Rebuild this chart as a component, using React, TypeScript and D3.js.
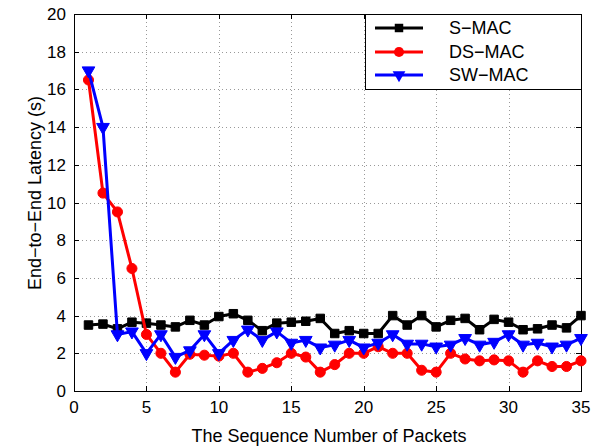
import React, { useRef, useEffect } from 'react';
import * as d3 from 'd3';

const packets = d3.range(1, 36);
const sMac = [3.5, 3.55, 3.3, 3.65, 3.6, 3.5, 3.4, 3.75, 3.5, 3.95, 4.1, 3.75, 3.2, 3.6, 3.65, 3.7, 3.85, 3.05, 3.2, 3.05, 3.05, 4.0, 3.5, 4.0, 3.4, 3.75, 3.85, 3.25, 3.8, 3.65, 3.25, 3.3, 3.5, 3.35, 4.0];
const dsMac = [16.5, 10.5, 9.5, 6.5, 3.0, 2.0, 1.0, 1.95, 1.9, 1.85, 2.0, 1.0, 1.2, 1.5, 2.0, 1.8, 1.0, 1.4, 2.0, 2.0, 2.35, 2.0, 2.0, 1.1, 1.0, 2.0, 1.7, 1.6, 1.65, 1.6, 1.0, 1.6, 1.3, 1.3, 1.6];
const swMac = [17.0, 14.0, 3.0, 3.15, 2.0, 3.0, 1.8, 2.15, 3.0, 2.0, 2.7, 3.25, 2.7, 3.15, 2.55, 2.7, 2.3, 2.45, 2.7, 2.3, 2.55, 3.0, 2.5, 2.5, 2.35, 2.45, 2.8, 2.45, 2.6, 3.0, 2.45, 2.55, 2.35, 2.45, 2.8];
const seriesNames = ['S-MAC', 'DS-MAC', 'SW-MAC'];
const seriesColors = ['#000000', '#ff0000', '#0000ff'];
const xTicks = [0, 5, 10, 15, 20, 25, 30, 35];
const yTicks = [0, 2, 4, 6, 8, 10, 12, 14, 16, 18, 20];

const App: React.FC = () => {
  const ref = useRef<SVGSVGElement | null>(null);

  useEffect(() => {
    if (!ref.current) return;
    const svg = d3.select(ref.current);
    svg.selectAll('*').remove();

    const left = 74, right = 581, top = 14, bottom = 391;
    const font = 'Arial, "Liberation Sans", Helvetica, sans-serif';
    const x = d3.scaleLinear().domain([0, 35]).range([left, right]);
    const y = d3.scaleLinear().domain([0, 20]).range([bottom, top]);

    svg.append('rect').attr('width', 597).attr('height', 448).attr('fill', '#fff');

    // grid
    const grid = svg.append('g').attr('stroke', '#999').attr('stroke-width', 1).attr('stroke-dasharray', '1,3');
    xTicks.slice(1, -1).forEach((t) => {
      grid.append('line').attr('x1', Math.round(x(t)) + 0.5).attr('x2', Math.round(x(t)) + 0.5).attr('y1', top).attr('y2', bottom);
    });
    yTicks.slice(1, -1).forEach((t) => {
      grid.append('line').attr('y1', Math.round(y(t)) + 0.5).attr('y2', Math.round(y(t)) + 0.5).attr('x1', left).attr('x2', right);
    });

    // axes box + inward ticks
    const ax = svg.append('g').attr('stroke', '#000').attr('stroke-width', 1);
    ax.append('rect').attr('x', left + 0.5).attr('y', top + 0.5).attr('width', right - left).attr('height', bottom - top).attr('fill', 'none');
    xTicks.forEach((t) => {
      const px = Math.round(x(t)) + 0.5;
      ax.append('line').attr('x1', px).attr('x2', px).attr('y1', bottom).attr('y2', bottom - 5);
      ax.append('line').attr('x1', px).attr('x2', px).attr('y1', top).attr('y2', top + 5);
    });
    yTicks.forEach((t) => {
      const py = Math.round(y(t)) + 0.5;
      ax.append('line').attr('y1', py).attr('y2', py).attr('x1', left).attr('x2', left + 5);
      ax.append('line').attr('y1', py).attr('y2', py).attr('x1', right).attr('x2', right - 5);
    });

    const labels = svg.append('g').attr('font-family', font).attr('font-size', 17).attr('fill', '#000');
    xTicks.forEach((t) => {
      labels.append('text').attr('x', x(t)).attr('y', 413).attr('text-anchor', 'middle').text(t);
    });
    yTicks.forEach((t) => {
      labels.append('text').attr('x', 66).attr('y', y(t) + 6).attr('text-anchor', 'end').text(t);
    });
    labels.append('text').attr('x', 329).attr('y', 442).attr('font-size', 18).attr('text-anchor', 'middle').text('The Sequence Number of Packets');
    labels.append('text').attr('transform', `translate(41,193) rotate(-90)`).attr('font-size', 18).attr('text-anchor', 'middle').text('End\u2212to\u2212End Latency (s)');

    const data = [sMac, dsMac, swMac];
    const symbols = [
      d3.symbol().type(d3.symbolSquare).size(72),
      d3.symbol().type(d3.symbolCircle).size(80),
      d3.symbol().type(d3.symbolTriangle).size(70),
    ];
    const line = d3.line<number>().x((_, i) => x(packets[i])).y((d) => y(d));

    data.forEach((vals, s) => {
      const g = svg.append('g');
      g.append('path').attr('d', line(vals)).attr('fill', 'none').attr('stroke', seriesColors[s]).attr('stroke-width', 3).attr('stroke-linejoin', 'round');
      g.selectAll('path.m')
        .data(vals)
        .enter()
        .append('path')
        .attr('class', 'm')
        .attr('d', symbols[s]() as string)
        .attr('transform', (d, i) => `translate(${x(packets[i])},${y(d)})${s === 2 ? ' rotate(180)' : ''}`)
        .attr('fill', seriesColors[s])
        .attr('stroke', seriesColors[s])
        .attr('stroke-width', 1);
    });

    // legend
    const lg = svg.append('g');
    lg.append('rect').attr('x', 365.5).attr('y', top + 0.5).attr('width', right - 365).attr('height', 75).attr('fill', '#fff').attr('stroke', '#000');
    const rows = [28, 52, 75];
    seriesNames.forEach((name, s) => {
      lg.append('line').attr('x1', 375).attr('x2', 423).attr('y1', rows[s]).attr('y2', rows[s]).attr('stroke', seriesColors[s]).attr('stroke-width', 3);
      lg.append('path')
        .attr('d', symbols[s]() as string)
        .attr('transform', `translate(399,${rows[s]})${s === 2 ? ' rotate(180)' : ''}`)
        .attr('fill', seriesColors[s]);
      lg.append('text').attr('x', 449).attr('y', rows[s] + 6).attr('font-family', font).attr('font-size', 18).text(name.replace('-', '\u2212'));
    });
  }, []);

  return <svg ref={ref} width={597} height={448} style={{ position: 'absolute', left: 0, top: 0 }} />;
};

export default App;
